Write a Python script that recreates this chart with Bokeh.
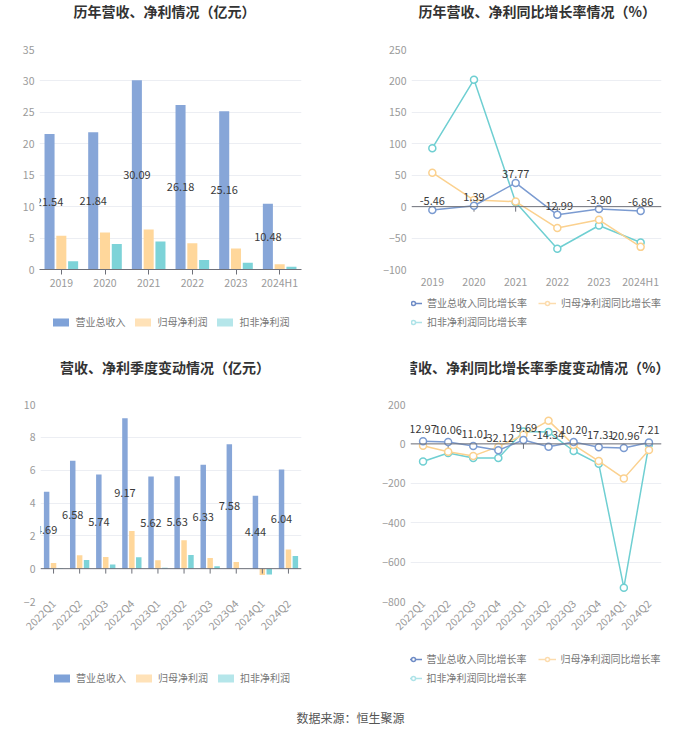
import math
from bokeh.plotting import figure
from bokeh.models import FactorRange, Range1d, Legend, LegendItem, Span, ColumnDataSource, FixedTicker, Label
from bokeh.transform import dodge
from bokeh.layouts import column, row
from bokeh.embed import file_html
from bokeh.resources import INLINE
from bokeh.core.properties import value

# ---------------- data ----------------
years = ["2019", "2020", "2021", "2022", "2023", "2024H1"]
rev_y = [21.54, 21.84, 30.09, 26.18, 25.16, 10.48]
np_y = [5.35, 5.88, 6.36, 4.18, 3.34, 0.84]
dnp_y = [1.32, 4.07, 4.45, 1.53, 1.06, 0.42]

rev_g_y = [-5.46, 1.39, 37.77, -12.99, -3.90, -6.86]
np_g_y = [54.0, 10.5, 8.0, -34.0, -21.0, -64.0]
dnp_g_y = [93.0, 202.0, 7.0, -67.0, -30.0, -57.0]

quarters = ["2022Q1", "2022Q2", "2022Q3", "2022Q4", "2023Q1",
            "2023Q2", "2023Q3", "2023Q4", "2024Q1", "2024Q2"]
rev_q = [4.69, 6.58, 5.74, 9.17, 5.62, 5.63, 6.33, 7.58, 4.44, 6.04]
np_q = [0.35, 0.81, 0.71, 2.30, 0.51, 1.73, 0.65, 0.41, -0.39, 1.16]
dnp_q = [0.03, 0.53, 0.26, 0.69, 0.05, 0.83, 0.15, -0.01, -0.36, 0.77]

rev_g_q = [12.97, 10.06, -11.01, -32.12, 19.69, -14.34, 10.20, -17.31, -20.96, 7.21]
np_g_q = [-9.0, -40.0, -61.0, -14.0, 46.0, 118.0, -5.0, -87.0, -175.0, -31.0]
dnp_g_q = [-89.0, -46.0, -72.0, -72.0, 63.0, 60.0, -36.0, -101.0, -730.0, -3.0]

bar_legend = ["营业总收入", "归母净利润", "扣非净利润"]
line_legend = ["营业总收入同比增长率", "归母净利润同比增长率", "扣非净利润同比增长率"]
titles = ["历年营收、净利情况（亿元）", "历年营收、净利同比增长率情况（%）",
          "营收、净利季度变动情况（亿元）", "营收、净利同比增长率季度变动情况（%）"]
source_note = "数据来源：恒生聚源"

# ---------------- style ----------------
FONT = "Noto Sans CJK SC"
C_BLUE, C_ORANGE, C_TEAL = "#87a6d8", "#ffd79b", "#7dd3d8"
L_BLUE, L_ORANGE, L_TEAL = "#7b9bd1", "#fbd18f", "#6fcfd2"
LEG_BAR = ["#7fa2d8", "#ffe2b8", "#b5e6ea"]
LEG_LINE = ["#6f8cc6", "#fcdcae", "#aee3e8"]
AXIS_C = "#6e7079"
GRID_C = "#eceef3"
TICK_C = "#9a9a9a"
W = 350


def blank_fig(w, h, lb=0, rb=0):
    f = figure(x_range=Range1d(0, w), y_range=Range1d(0, h), width=w, height=h,
               output_backend="svg", toolbar_location=None,
               min_border_left=lb, min_border_right=rb, min_border_top=0, min_border_bottom=0)
    f.axis.visible = False
    f.grid.grid_line_color = None
    f.outline_line_color = None
    return f


def title_fig(text, h, cx, cy_from_top):
    f = blank_fig(W, h)
    f.add_layout(Label(x=cx, y=h - cy_from_top, text=text, text_align="center",
                       text_baseline="middle", text_font=FONT, text_font_size="14px",
                       text_font_style="bold", text_color="#333333"))
    return f


def legend_fig(names, colors, kind, h, lb, rb, margin, ncols, spacing, label_w):
    f = blank_fig(W, h, lb, rb)
    hidden = ColumnDataSource(dict(x=[-50], y=[-50]))
    items = []
    for n, c in zip(names, colors):
        if kind == "bar":
            r = f.rect(x="x", y="y", width=1, height=1, source=hidden, fill_color=c,
                       line_color=None)
            items.append(LegendItem(label=n, renderers=[r]))
        else:
            r1 = f.line(x="x", y="y", source=hidden, line_color=c, line_width=1.5)
            r2 = f.scatter(x="x", y="y", source=hidden, marker="circle", size=9,
                           fill_color="white", line_color=c, line_width=1.5)
            items.append(LegendItem(label=n, renderers=[r1, r2]))
    lg = Legend(items=items, orientation="horizontal", location="top_center",
                glyph_width=20 if kind == "bar" else 18, glyph_height=10,
                label_standoff=5, spacing=spacing, padding=0, margin=margin,
                border_line_color=None, background_fill_alpha=0,
                label_text_font=FONT, label_text_font_size="10px",
                label_text_color="#777777", label_height=10, label_width=label_w)
    if ncols:
        lg.ncols = ncols
    f.add_layout(lg)
    return f


def base_fig(cats, yr, ticks, h, borders):
    left, right, top, bottom = borders
    p = figure(x_range=FactorRange(*cats), y_range=Range1d(*yr), width=W, height=h,
               output_backend="svg", toolbar_location=None,
               min_border_left=left, min_border_right=right,
               min_border_top=top, min_border_bottom=bottom)
    p.outline_line_color = None
    p.xgrid.grid_line_color = None
    p.ygrid.grid_line_color = GRID_C
    p.yaxis.ticker = FixedTicker(ticks=ticks)
    p.yaxis.axis_line_color = None
    p.yaxis.major_tick_line_color = None
    p.yaxis.major_tick_out = 0
    p.yaxis.major_tick_in = 0
    p.yaxis.minor_tick_line_color = None
    p.yaxis.major_label_text_color = TICK_C
    p.yaxis.major_label_text_font = FONT
    p.yaxis.major_label_text_font_size = "10.5px"
    p.yaxis.major_label_standoff = 5
    p.xaxis.major_label_text_color = TICK_C
    p.xaxis.major_label_text_font = FONT
    p.xaxis.major_label_text_font_size = "10.5px"
    p.xaxis.minor_tick_line_color = None
    return p


def zero_axis(p, cats, tick_len):
    p.add_layout(Span(location=0, dimension="width", line_color=AXIS_C, line_width=1))
    src = ColumnDataSource(dict(c=cats, y0=[0] * len(cats), y1=[-tick_len] * len(cats)))
    p.segment(x0="c", y0="y0", x1="c", y1="y1", source=src, line_color=AXIS_C, line_width=1)
    p.xaxis.axis_line_color = None
    p.xaxis.major_tick_line_color = None
    p.xaxis.major_tick_out = 0
    p.xaxis.major_tick_in = 0


def bar_chart(cats, rev, npf, dnp, yr, ticks, h, borders, tick_len, rotate, off, bw):
    p = base_fig(cats, yr, ticks, h, borders)
    src = ColumnDataSource(dict(c=cats, rev=rev, npf=npf, dnp=dnp,
                                half=[v / 2 for v in rev], lbl=["%.2f" % v for v in rev]))
    p.vbar(x=dodge("c", -off, range=p.x_range), top="rev", width=bw, source=src,
           fill_color=C_BLUE, line_color=None)
    p.vbar(x=dodge("c", 0, range=p.x_range), top="npf", width=bw, source=src,
           fill_color=C_ORANGE, line_color=None)
    p.vbar(x=dodge("c", off, range=p.x_range), top="dnp", width=bw, source=src,
           fill_color=C_TEAL, line_color=None)
    p.text(x=dodge("c", -off, range=p.x_range), y="half", text="lbl", source=src,
           text_align="center", text_baseline="middle", text_font=value(FONT),
           text_font_size="11px", text_color="#3a3a3a")
    if rotate:
        zero_axis(p, cats, tick_len)
        p.xaxis.major_label_orientation = math.pi / 4
        p.xaxis.major_label_standoff = 0
    else:
        p.xaxis.axis_line_color = AXIS_C
        p.xaxis.major_tick_line_color = AXIS_C
        p.xaxis.major_tick_out = 5
        p.xaxis.major_tick_in = 0
        p.xaxis.major_label_standoff = 0
    return p


def line_chart(cats, rg, ng, dg, yr, ticks, h, borders, tick_len, rotate, lbl_off):
    p = base_fig(cats, yr, ticks, h, borders)
    zero_axis(p, cats, tick_len)
    src = ColumnDataSource(dict(c=cats, rg=rg, ng=ng, dg=dg, lbl=["%.2f" % v for v in rg]))
    for col, lc in (("dg", L_TEAL), ("ng", L_ORANGE), ("rg", L_BLUE)):
        p.line(x="c", y=col, source=src, line_color=lc, line_width=1.5)
        p.scatter(x="c", y=col, source=src, marker="circle", size=7, fill_color="white",
                  line_color=lc, line_width=1.5)
    p.text(x="c", y="rg", text="lbl", source=src, text_align="center",
           text_baseline="bottom", y_offset=-lbl_off, text_font=value(FONT),
           text_font_size="11px", text_color="#3a3a3a")
    if rotate:
        p.xaxis.major_label_orientation = math.pi / 4
        p.xaxis.major_label_standoff = 0
    else:
        p.xaxis.major_label_standoff = 4
    return p


# top row: title 24 + chart 269 + legend 52 = 345
t1 = title_fig(titles[0], 24, 167, 10.5)
c1 = bar_chart(years, rev_y, np_y, dnp_y, (0, 35), list(range(0, 36, 5)),
               269, (39, 49, 25, 24), 0, False, 0.27, 0.23)
l1 = legend_fig(bar_legend, LEG_BAR, "bar", 52, 0, 9, 21, None, 7, 20)

t2 = title_fig(titles[1], 24, 176, 10.5)
c2 = line_chart(years, rev_g_y, np_g_y, dnp_g_y, (-100, 250), list(range(-100, 251, 50)),
                269, (61, 39, 25, 24), 8, False, 5)
l2 = legend_fig(line_legend, LEG_LINE, "line", 52, 13, 0, 2, 2, 4, 107)

# bottom row: title 34 + chart 262 + legend 59 = 355
t3 = title_fig(titles[2], 34, 167, 21.7)
c3 = bar_chart(quarters, rev_q, np_q, dnp_q, (-2, 10), list(range(-2, 11, 2)),
               262, (40, 49, 25, 40), 0.3, True, 0.265, 0.21)
l3 = legend_fig(bar_legend, LEG_BAR, "bar", 59, 0, 9, 29, None, 7, 20)

t4 = title_fig(titles[3], 34, 176, 21.7)
c4 = line_chart(quarters, rev_g_q, np_g_q, dnp_g_q, (-800, 200), list(range(-800, 201, 200)),
                262, (60, 39, 25, 40), 25, True, 8)
l4 = legend_fig(line_legend, LEG_LINE, "line", 59, 13, 0, 10, 2, 4, 107)

foot = blank_fig(2 * W, 34)
foot.add_layout(Label(x=W, y=17, text=source_note, text_align="center",
                      text_baseline="middle", text_font=FONT, text_font_size="12px",
                      text_color="#555555"))

layout = column(row(column(t1, c1, l1), column(t2, c2, l2)),
                row(column(t3, c3, l3), column(t4, c4, l4)),
                foot)
open("out.html", "w").write(file_html(layout, INLINE))
